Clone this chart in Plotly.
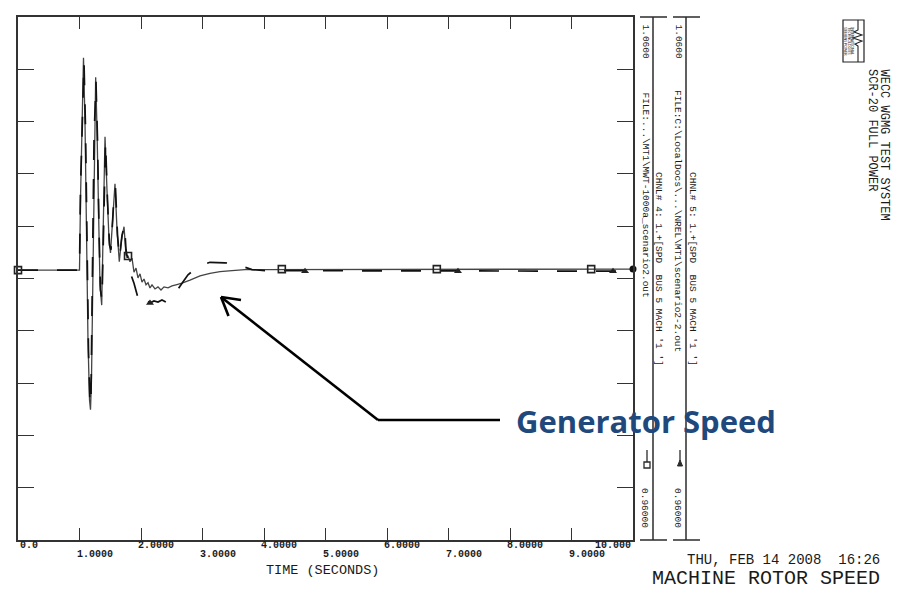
import plotly.graph_objects as go

# ---------------- data ----------------
# CHNL# 4 : 1.+[SPD BUS 5 MACH '1 ']  (solid)
t_ch4 = [0.0, 1.000, 1.016, 1.041, 1.065, 1.089, 1.114, 1.138, 1.163, 1.179, 1.195,
         1.220, 1.244, 1.263, 1.285, 1.309, 1.333, 1.361, 1.382, 1.415, 1.447, 1.480,
         1.504, 1.545, 1.577, 1.610, 1.647, 1.683, 1.724, 1.756, 1.789, 1.821, 1.854,
         1.886, 1.919, 1.951, 1.984, 2.016, 2.049, 2.081, 2.114, 2.146, 2.179, 2.228,
         2.276, 2.325, 2.374, 2.439, 2.504, 2.569, 2.667, 2.797, 2.959, 3.122, 3.285,
         3.480, 3.691, 3.935, 10.0]
v_ch4 = [1.0116, 1.0116, 1.0250, 1.0422, 1.0522, 1.0403, 1.0154, 0.9982, 0.9868, 0.9849, 0.9906,
         1.0154, 1.0384, 1.0485, 1.0384, 1.0212, 1.0088, 1.0049, 1.0154, 1.0371, 1.0269, 1.0174,
         1.0149, 1.0231, 1.0281, 1.0193, 1.0132, 1.0174, 1.0199, 1.0145, 1.0143, 1.0132, 1.0139,
         1.0112, 1.0120, 1.0101, 1.0109, 1.0093, 1.0099, 1.0088, 1.0092, 1.0082, 1.0088, 1.0080,
         1.0084, 1.0078, 1.0084, 1.0082, 1.0086, 1.0088, 1.0091, 1.0097, 1.0105, 1.0110, 1.0113,
         1.0115, 1.0117, 1.0117, 1.0118]

# CHNL# 5 : 1.+[SPD BUS 5 MACH '1 ']  (dashed)
t_ch5 = [0.0, 1.000, 1.016, 1.049, 1.073, 1.098, 1.122, 1.146, 1.171, 1.187, 1.211,
         1.236, 1.268, 1.293, 1.317, 1.341, 1.366, 1.390, 1.423, 1.455, 1.488, 1.512,
         1.553, 1.585, 1.618, 1.650, 1.691, 1.732, 1.756, 1.789, 1.837, 1.886, 1.919,
         1.951, 1.984, 2.033, 2.081, 2.146, 2.211, 2.276, 2.341, 2.407, 2.472, 2.569,
         2.667, 2.764, 2.878, 2.992, 3.122, 3.236, 3.366, 3.528, 3.691, 3.805, 4.016, 10.0]
v_ch5 = [1.0116, 1.0116, 1.0269, 1.0441, 1.0514, 1.0384, 1.0135, 0.9963, 0.9858, 0.9877, 1.0116,
         1.0365, 1.0476, 1.0365, 1.0193, 1.0078, 1.0059, 1.0174, 1.0361, 1.0250, 1.0164, 1.0155,
         1.0241, 1.0273, 1.0183, 1.0139, 1.0183, 1.0202, 1.0155, 1.0132, 1.0107, 1.0091, 1.0078,
         1.0063, 1.0072, 1.0065, 1.0059, 1.0053, 1.0057, 1.0055, 1.0059, 1.0055, 1.0063, 1.0074,
         1.0091, 1.0107, 1.0118, 1.0126, 1.0131, 1.0131, 1.0130, 1.0128, 1.0121, 1.0117, 1.0115, 1.0114]

# channel symbols along the curves
sym4_t = [0.0, 1.789, 4.29, 6.81, 9.32]
sym4_v = [1.0116, 1.0143, 1.0118, 1.0118, 1.0118]
sym5_t = [2.146, 4.667, 7.154, 9.675]
sym5_v = [1.0053, 1.0114, 1.0114, 1.0114]
end_t = [10.0]
end_v = [1.0118]

x_ticks = [0, 1, 2, 3, 4, 5, 6, 7, 8, 9, 10]
x_tick_labels = ["0.0", "1.0000", "2.0000", "3.0000", "4.0000", "5.0000",
                 "6.0000", "7.0000", "8.0000", "9.0000", "10.000"]
y_max_label = "1.0600"
y_min_label = "0.96000"

# ---------------- geometry helpers (pixel -> paper) ----------------
W, H = 918, 593
L, R, T, B = 18, 633, 17, 540


def px(x):
    return (x - L) / (R - L)


def py(y):
    return (B - y) / (B - T)


MONO = "Liberation Mono"
INK = "#2b2b2b"

fig = go.Figure()

fig.add_trace(go.Scatter(x=t_ch4, y=v_ch4, mode="lines",
                         line=dict(color="#444444", width=1.3),
                         hoverinfo="skip", cliponaxis=False))
fig.add_trace(go.Scatter(x=t_ch5, y=v_ch5, mode="lines",
                         line=dict(color="#111111", width=1.7, dash="20px,19px"),
                         hoverinfo="skip", cliponaxis=False))
fig.add_trace(go.Scatter(x=sym4_t, y=sym4_v, mode="markers",
                         marker=dict(symbol="square-open", size=7, color="#222",
                                     line=dict(width=1.6, color="#222")),
                         hoverinfo="skip", cliponaxis=False))
fig.add_trace(go.Scatter(x=sym5_t, y=sym5_v, mode="markers",
                         marker=dict(symbol="triangle-up", size=7, color="#222"),
                         hoverinfo="skip", cliponaxis=False))
fig.add_trace(go.Scatter(x=end_t, y=end_v, mode="markers",
                         marker=dict(symbol="circle", size=7, color="#111"),
                         hoverinfo="skip", cliponaxis=False))

shapes = []


def seg(x0, y0, x1, y1, w=1.5, c=INK):
    shapes.append(dict(type="line", xref="paper", yref="paper",
                       x0=px(x0), y0=py(y0), x1=px(x1), y1=py(y1),
                       line=dict(color=c, width=w)))


# channel axis strips on the right
for xv, c0, c1 in [(653, 640, 667), (686, 673, 700)]:
    seg(xv, T, xv, B)
    seg(c0, T, c1, T)
    seg(c0, B, c1, B)

# strip channel symbols
seg(647, 450, 647, 462, w=1.3)
shapes.append(dict(type="rect", xref="paper", yref="paper",
                   x0=px(644), x1=px(650), y0=py(462), y1=py(468),
                   line=dict(color=INK, width=1.3)))
seg(680, 450, 680, 461, w=1.3)
shapes.append(dict(type="path", xref="paper", yref="paper",
                   path="M {a},{b} L {c},{b} L {d},{e} Z".format(
                       a=px(677.5), b=py(466), c=px(682.5), d=px(680), e=py(460)),
                   fillcolor=INK, line=dict(color=INK, width=1)))

# pointer arrow to the curve
seg(500, 420, 378, 420, w=2.6, c="#000")
seg(378, 420, 221, 297, w=2.6, c="#000")
seg(221, 297, 241, 300, w=2.6, c="#000")
seg(221, 297, 228.5, 316, w=2.6, c="#000")

# logo box
shapes.append(dict(type="rect", xref="paper", yref="paper",
                   x0=px(843), x1=px(864), y0=py(62), y1=py(20),
                   line=dict(color="#222", width=1.2)))
wave = [(858, 20), (858, 30), (854, 32), (862, 35), (853, 38), (862, 41),
        (855, 44), (858, 46), (858, 62)]
shapes.append(dict(type="path", xref="paper", yref="paper",
                   path="M " + " L ".join("{:.5f},{:.5f}".format(px(a), py(b)) for a, b in wave),
                   line=dict(color="#222", width=1.1)))

annotations = []


def txt(x, y, s, size, xa="center", ya="middle", angle=0, font=MONO, color="#1a1a1a",
        xref="paper", xs=0, weight="normal"):
    annotations.append(dict(
        x=(px(x) if xref == "paper" else x), y=py(y), xref=xref, yref="paper",
        text=s, showarrow=False, xanchor=xa, yanchor=ya, textangle=angle, xshift=xs,
        font=dict(family=font, size=size, color=color, weight=weight)))


# staggered x tick labels
for i, (tv, tl) in enumerate(zip(x_ticks, x_tick_labels)):
    yrow = 545 if i % 2 == 0 else 554
    if i == 0:
        txt(tv, yrow, tl, 10, xa="left", xref="x", weight="bold")
    elif i == len(x_ticks) - 1:
        txt(tv, yrow, tl, 10, xa="right", xref="x", weight="bold")
    else:
        txt(tv, yrow, tl, 10, xa="left", xref="x", xs=-5, weight="bold")

txt(322, 570, "TIME\u00a0(SECONDS)", 13.5)

# strip texts
NB = "\u00a0"
txt(645, 22, y_max_label, 9.5, ya="top", angle=90)
txt(645, 90, r"FILE:...\MT1\MWT-1000a_scenario2.out", 9.5, ya="top", angle=90)
txt(659, 368, "CHNL#" + NB + "4:" + NB + "1.+[SPD" + NB + NB + "BUS" + NB + "5" + NB + "MACH" + NB + "'1" + NB + "']",
    9.5, ya="bottom", angle=90)
txt(645, 530, y_min_label, 9.5, ya="bottom", angle=90)
txt(678, 22, y_max_label, 9.5, ya="top", angle=90)
txt(678, 88, r"FILE:C:\LocalDocs\...\NREL\MT1\scenario2-2.out", 9.5, ya="top", angle=90)
txt(693, 368, "CHNL#" + NB + "5:" + NB + "1.+[SPD" + NB + NB + "BUS" + NB + "5" + NB + "MACH" + NB + "'1" + NB + "']",
    9.5, ya="bottom", angle=90)
txt(678, 530, y_min_label, 9.5, ya="bottom", angle=90)

# title block
txt(884, 67, "WECC WGMG TEST SYSTEM", 12, ya="top", angle=90)
txt(872, 67, "SCR-20 FULL POWER", 12, ya="top", angle=90)
txt(846, 41, "SIEMENS POWER", 3.6, angle=90, font="Noto Sans")
txt(849.5, 41, "TECHNOLOGIES", 3.6, angle=90, font="Noto Sans")
txt(853, 41, "INTERNATIONAL", 3.6, angle=90, font="Noto Sans")
txt(882, 560, "THU, FEB 14 2008" + NB + NB + "16:26", 14, xa="right")
txt(882, 578, "MACHINE ROTOR SPEED", 20, xa="right")

# call-out label
txt(514, 421, "Generator Speed", 31, xa="left", font="Open Sans", color="#1F497D", weight="bold")

axis_common = dict(showgrid=False, zeroline=False, showline=True, linecolor="#333",
                   linewidth=1.5, mirror="ticks", ticks="inside", tickcolor="#333",
                   tickwidth=1.2, showticklabels=False, fixedrange=True)

fig.update_layout(
    width=W, height=H,
    margin=dict(l=L, r=W - R, t=T, b=H - B, pad=0),
    paper_bgcolor="white", plot_bgcolor="white",
    showlegend=False,
    xaxis=dict(range=[0, 10], tickvals=x_ticks, ticklen=12, **axis_common),
    yaxis=dict(range=[0.96, 1.06], tick0=0.96, dtick=0.01, ticklen=16, **axis_common),
    shapes=shapes,
    annotations=annotations,
    font=dict(family=MONO, color="#1a1a1a"),
)

fig.write_html("out.html",
               config={"displayModeBar": False},
               post_script="document.body.style.margin='0px';document.body.style.padding='0px';"
                           "document.body.style.overflow='hidden';")
